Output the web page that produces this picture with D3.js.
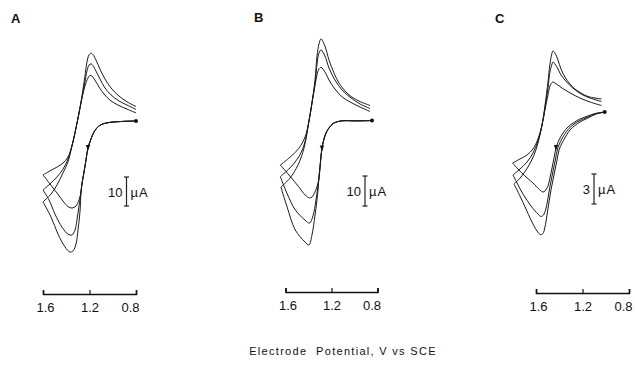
<!DOCTYPE html>
<html>
<head>
<meta charset="utf-8">
<script src="https://cdn.jsdelivr.net/npm/d3@7"></script>
<style>
  body { margin: 0; background: #fff; }
  svg { display: block; }
  text { font-family: "Liberation Sans", Arial, sans-serif; fill: #111; }
</style>
</head>
<body>
<svg id="chart" width="635" height="371"></svg>
<script>
// potential axis (V vs SCE) and panel labels
const potentialTicks = [1.6, 1.2, 0.8];
const panelNames = ['A', 'B', 'C'];
const scaleBarUA = [10, 10, 3];
const axisTitle = 'Electrode  Potential, V vs SCE';

// ---- panel A : [E (V), i (uA)], cathodic up
const fwdA = [[0.800, 0.0], [0.895, -0.1], [0.981, -0.3], [1.058, -0.7], [1.118, -1.7], [1.161, -3.8],
  [1.187, -6.2], [1.213, -9.3], [1.230, -13.4], [1.247, -17.6], [1.265, -21.7], [1.273, -24.5]];
const tailA1 = [[1.290, -27.2], [1.316, -29.3], [1.351, -30.0], [1.385, -29.5], [1.428, -27.6], [1.480, -24.8], [1.540, -21.7], [1.600, -18.6]];
const tailA2 = [[1.290, -29.3], [1.308, -34.1], [1.325, -37.6], [1.351, -39.3], [1.385, -39.0], [1.437, -36.6], [1.497, -32.1], [1.548, -27.2], [1.600, -23.8]];
const tailA3 = [[1.282, -31.4], [1.299, -37.6], [1.316, -42.4], [1.342, -44.8], [1.368, -45.2], [1.411, -43.4], [1.471, -39.0], [1.531, -33.1], [1.600, -27.9]];
const revA1 = [[1.600, -18.6], [1.540, -17.2], [1.480, -15.9], [1.428, -14.5], [1.385, -12.4], [1.351, -8.6], [1.316, -2.4], [1.290, 2.8],
  [1.265, 7.9], [1.239, 12.1], [1.213, 14.8], [1.196, 15.7], [1.179, 15.5], [1.153, 14.1], [1.118, 11.7], [1.075, 9.3], [1.024, 7.2], [0.955, 5.5], [0.877, 4.1], [0.800, 2.8]];
const revA2 = [[1.600, -23.8], [1.540, -21.7], [1.480, -19.3], [1.428, -16.6], [1.385, -13.1], [1.351, -8.6], [1.316, -2.4], [1.290, 2.8],
  [1.265, 7.9], [1.239, 13.4], [1.222, 17.2], [1.204, 19.3], [1.187, 19.7], [1.170, 19.1], [1.144, 17.2], [1.110, 14.5], [1.067, 11.4], [1.015, 9.0], [0.946, 6.9], [0.877, 5.5], [0.800, 4.0]];
const revA3 = [[1.600, -27.9], [1.531, -25.2], [1.480, -22.1], [1.428, -17.9], [1.385, -14.1], [1.351, -8.6], [1.316, -2.4], [1.290, 2.8],
  [1.265, 8.6], [1.239, 15.5], [1.222, 20.3], [1.204, 22.8], [1.187, 23.4], [1.170, 22.9], [1.144, 21.0], [1.110, 17.9], [1.067, 14.5], [1.015, 11.4], [0.946, 8.6], [0.877, 6.6], [0.800, 5.0]];
const arrowA = [1.213, -9.3];

// ---- panel B
const fwdB = [[0.848, 0.0], [0.935, -0.1], [1.022, -0.1], [1.109, -0.1], [1.181, -0.9], [1.224, -2.6], [1.254, -4.8], [1.283, -9.3], [1.297, -14.3], [1.311, -19.8]];
const tailB1 = [[1.343, -23.8], [1.370, -25.5], [1.391, -25.8], [1.430, -24.8], [1.485, -22.1], [1.558, -18.7], [1.645, -14.8]];
const tailB2 = [[1.335, -26.5], [1.361, -31.8], [1.391, -34.2], [1.430, -33.2], [1.515, -29.8], [1.587, -24.3], [1.645, -18.7]];
const tailB3 = [[1.317, -23.2], [1.343, -31.5], [1.370, -38.2], [1.396, -41.5], [1.430, -40.5], [1.515, -36.5], [1.587, -28.7], [1.640, -22.2]];
const revB1 = [[1.645, -14.8], [1.572, -12.6], [1.485, -9.3], [1.430, -5.5], [1.396, -0.2], [1.370, 5.8], [1.343, 11.8], [1.326, 15.2], [1.309, 17.2],
  [1.291, 17.7], [1.257, 16.2], [1.222, 13.5], [1.170, 10.5], [1.109, 7.9], [1.039, 6.2], [0.952, 4.5], [0.865, 3.0]];
const revB2 = [[1.645, -18.7], [1.561, -15.8], [1.491, -12.5], [1.439, -8.2], [1.396, -0.2], [1.370, 5.8], [1.343, 12.5], [1.326, 18.8], [1.309, 22.5],
  [1.291, 23.5], [1.257, 21.5], [1.222, 17.5], [1.170, 13.5], [1.109, 10.2], [1.039, 7.8], [0.952, 5.5], [0.865, 4.0]];
const revB3 = [[1.640, -22.2], [1.561, -19.2], [1.491, -14.8], [1.439, -9.2], [1.396, -0.2], [1.370, 5.8], [1.343, 13.5], [1.326, 21.5], [1.309, 25.5],
  [1.291, 27.2], [1.257, 24.8], [1.222, 20.2], [1.178, 15.8], [1.135, 12.5], [1.074, 9.5], [1.022, 7.8], [0.952, 6.3], [0.865, 5.0]];
const arrowB = [1.283, -9.3];

// ---- panel C
const fwdC1 = [[1.009, 0.0], [1.093, -0.15], [1.153, -0.40], [1.222, -0.70], [1.273, -1.05], [1.325, -1.50], [1.368, -2.10], [1.402, -2.80],
  [1.428, -3.60], [1.445, -4.60], [1.462, -5.60], [1.480, -6.60], [1.497, -7.40], [1.523, -7.90], [1.540, -8.00], [1.566, -7.80],
  [1.626, -7.10], [1.695, -6.40], [1.755, -5.70], [1.802, -5.10]];
const fwdC2 = [[1.009, 0.0], [1.093, -0.20], [1.153, -0.50], [1.222, -0.85], [1.273, -1.20], [1.316, -1.65], [1.355, -2.25], [1.389, -2.95],
  [1.415, -3.70], [1.432, -4.70], [1.450, -5.70], [1.467, -6.70], [1.484, -7.70], [1.501, -8.90], [1.518, -9.80], [1.536, -10.30],
  [1.557, -10.45], [1.583, -10.20], [1.643, -9.40], [1.712, -8.20], [1.763, -7.10], [1.798, -6.30]];
const fwdC3 = [[1.009, 0.0], [1.093, -0.25], [1.153, -0.60], [1.222, -1.00], [1.265, -1.35], [1.308, -1.80], [1.342, -2.40], [1.376, -3.10],
  [1.402, -3.80], [1.419, -4.80], [1.437, -5.80], [1.454, -6.80], [1.471, -7.80], [1.488, -9.00], [1.505, -10.30], [1.523, -11.50],
  [1.540, -12.15], [1.561, -12.25], [1.591, -11.90], [1.643, -10.80], [1.686, -9.70], [1.738, -8.40], [1.789, -7.20]];
const revC1 = [[1.802, -5.10], [1.738, -4.70], [1.677, -4.30], [1.626, -3.70], [1.583, -2.70], [1.548, -1.30], [1.523, 0.20], [1.497, 1.70],
  [1.480, 2.60], [1.462, 2.95], [1.454, 3.00], [1.437, 2.90], [1.411, 2.70], [1.376, 2.40], [1.342, 2.15], [1.290, 1.80], [1.222, 1.40], [1.136, 1.00], [1.037, 0.65]];
const revC2 = [[1.798, -6.30], [1.738, -5.70], [1.677, -5.00], [1.626, -4.10], [1.583, -2.90], [1.548, -1.30], [1.523, 0.40], [1.497, 2.40],
  [1.480, 4.00], [1.462, 4.80], [1.454, 5.00], [1.437, 4.80], [1.411, 4.30], [1.385, 3.70], [1.351, 3.20], [1.308, 2.65], [1.256, 2.15], [1.204, 1.75], [1.136, 1.40], [1.037, 1.05]];
const revC3 = [[1.789, -7.20], [1.729, -6.50], [1.669, -5.50], [1.617, -4.30], [1.583, -3.10], [1.548, -1.30], [1.523, 0.60], [1.497, 3.00],
  [1.480, 4.80], [1.462, 5.90], [1.454, 6.10], [1.437, 5.90], [1.411, 5.20], [1.385, 4.30], [1.351, 3.50], [1.308, 2.80], [1.265, 2.30], [1.213, 1.90], [1.153, 1.55], [1.037, 1.30]];
const arrowC = [1.428, -3.60];

const svg = d3.select('#chart');

// layout of the three panels
const panels = [
  { name: panelNames[0], lx: 11, ly: 23, xRange: [43, 136], y0: 121, pxPerUA: 2.9, axisY: 294,
    bar: { x: 126.5, top: 177, val: scaleBarUA[0] },
    fwd: [fwdA.concat(tailA1), fwdA.concat(tailA2), fwdA.concat(tailA3)], rev: [revA1, revA2, revA3], arrow: arrowA },
  { name: panelNames[1], lx: 254, ly: 22, xRange: [285.5, 377.5], y0: 120.5, pxPerUA: 3.0, axisY: 292,
    bar: { x: 365, top: 176, val: scaleBarUA[1] },
    fwd: [fwdB.concat(tailB1), fwdB.concat(tailB2), fwdB.concat(tailB3)], rev: [revB1, revB2, revB3], arrow: arrowB },
  { name: panelNames[2], lx: 495, ly: 23, xRange: [536, 629], y0: 112, pxPerUA: 10, axisY: 293,
    bar: { x: 594, top: 174, val: scaleBarUA[2] },
    fwd: [fwdC1, fwdC2, fwdC3], rev: [revC1, revC2, revC3], arrow: arrowC }
];

panels.forEach(p => {
  const x = d3.scaleLinear().domain([1.6, 0.8]).range(p.xRange);
  const y = d3.scaleLinear().domain([0, 10]).range([p.y0, p.y0 - 10 * p.pxPerUA]);
  const g = svg.append('g').attr('class', 'panel');

  const line = d3.line()
    .x(d => x(d[0]))
    .y(d => y(d[1]))
    .curve(d3.curveCatmullRom.alpha(0.5));

  // panel letter
  g.append('text')
    .attr('x', p.lx).attr('y', p.ly)
    .attr('font-size', '13px').attr('font-weight', 'bold')
    .text(p.name);

  // voltammograms
  p.fwd.concat(p.rev).forEach(c => {
    g.append('path')
      .attr('d', line(c))
      .attr('fill', 'none')
      .attr('stroke', '#1a1a1a')
      .attr('stroke-width', 1)
      .attr('stroke-linejoin', 'round');
  });

  // start point and scan direction arrow
  const s = p.fwd[0][0];
  g.append('circle').attr('cx', x(s[0])).attr('cy', y(s[1])).attr('r', 2).attr('fill', '#111');
  g.append('path')
    .attr('d', 'M-2.2,-3 L2.2,-3 L0,2.5 Z')
    .attr('transform', `translate(${x(p.arrow[0])},${y(p.arrow[1])})`)
    .attr('fill', '#111');

  // current scale bar
  const len = y(0) - y(p.bar.val);
  const b = g.append('g').attr('stroke', '#222').attr('stroke-width', 1.2);
  b.append('line').attr('x1', p.bar.x).attr('x2', p.bar.x).attr('y1', p.bar.top).attr('y2', p.bar.top + len);
  b.append('line').attr('x1', p.bar.x - 2.5).attr('x2', p.bar.x + 2.5).attr('y1', p.bar.top).attr('y2', p.bar.top);
  b.append('line').attr('x1', p.bar.x - 2.5).attr('x2', p.bar.x + 2.5).attr('y1', p.bar.top + len).attr('y2', p.bar.top + len);
  const mid = p.bar.top + len / 2;
  g.append('text').attr('x', p.bar.x - 4).attr('y', mid + 5)
    .attr('text-anchor', 'end').attr('font-size', '13px').text(p.bar.val);
  g.append('text').attr('x', p.bar.x + 4).attr('y', mid + 5)
    .attr('font-size', '13px').attr('letter-spacing', '1px').text('\u00b5A');

  // potential axis
  const ax = g.append('g')
    .attr('transform', `translate(0,${p.axisY})`)
    .call(d3.axisBottom(x).tickValues(potentialTicks).tickSize(-4).tickSizeOuter(-4).tickPadding(9)
      .tickFormat(d3.format('.1f')));
  ax.select('.domain').attr('stroke', '#111').attr('stroke-width', 1.6);
  ax.selectAll('.tick line').attr('stroke', '#111').attr('stroke-width', 1.2);
  ax.selectAll('.tick text')
    .attr('font-size', '13px')
    .attr('font-family', '"Liberation Sans", Arial, sans-serif')
    .attr('fill', '#111')
    .attr('text-anchor', (d, i) => i === potentialTicks.length - 1 ? 'end' : 'middle')
    .attr('dx', (d, i) => i === potentialTicks.length - 1 ? 3 : (i === 0 ? 2 : 0));
});

// common x axis title
svg.append('text')
  .attr('x', 343).attr('y', 355)
  .attr('text-anchor', 'middle')
  .attr('font-size', '11px')
  .attr('letter-spacing', '1.3px')
  .style('white-space', 'pre')
  .text(axisTitle);
</script>
</body>
</html>
